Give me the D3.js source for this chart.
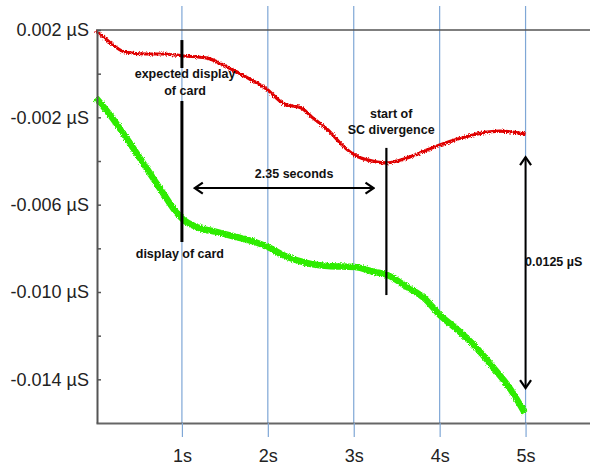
<!DOCTYPE html>
<html>
<head>
<meta charset="utf-8">
<script src="https://cdn.jsdelivr.net/npm/d3@7"></script>
<style>
  body { margin: 0; background: #fff; }
  svg text { font-family: "Liberation Sans", Arial, sans-serif; }
  .note { font-size: 12.5px; font-weight: bold; fill: #111; }
</style>
</head>
<body>
<svg id="chart"></svg>
<script>
// Red trace: time (s) and conductance (µS)
var redTime = [0, 0.1, 0.34, 0.58, 0.78, 1.02, 1.28, 1.55, 1.77, 2.0, 2.19, 2.39, 2.51,
  2.7, 2.9, 3.01, 3.16, 3.37, 3.62, 3.85, 4.0, 4.25, 4.49, 4.7, 5.0];
var redValue = [0.00195, 0.00163, 0.00099, 0.0009, 0.0009, 0.00081, 0.00072, 0.00026, -0.0002,
  -0.00075, -0.00139, -0.00157, -0.00198, -0.00258, -0.0034, -0.00373, -0.00395, -0.00409,
  -0.00386, -0.0035, -0.00327, -0.00295, -0.00272, -0.00263, -0.00276];

// Green trace
var greenTime = [0, 0.18, 0.37, 0.58, 0.78, 0.94, 1.02, 1.17, 1.4, 1.63, 1.85, 2.0, 2.23,
  2.45, 2.7, 3.01, 3.24, 3.39, 3.62, 3.82, 4.0, 4.21, 4.42, 4.62, 4.83, 4.99];
var greenValue = [-0.00111, -0.00198, -0.00304, -0.00428, -0.00547, -0.00638, -0.0067, -0.00702,
  -0.00725, -0.00748, -0.00771, -0.00794, -0.0084, -0.00867, -0.00881, -0.00886, -0.00908,
  -0.00922, -0.00977, -0.01028, -0.01105, -0.01174, -0.01252, -0.01344, -0.01449, -0.01554];

// Axis ticks
var xTicks = [1, 2, 3, 4, 5];
var xTickLabels = ["1s", "2s", "3s", "4s", "5s"];
var yTicks = [0.002, 0, -0.002, -0.004, -0.006, -0.008, -0.010, -0.012, -0.014];
var yTickLabels = ["0.002 µS", "", "-0.002 µS", "", "-0.006 µS", "", "-0.010 µS", "", "-0.014 µS"];

// Annotations (time, value)
var cardLineTime = 1;
var cardLineValues = [[0.00154, 0.00026], [-0.00125, -0.00771]];
var divLineTime = 3.38;
var divLineValues = [-0.0034, -0.01014];
var gapArrowTime = [1.15, 3.23];
var gapArrowValue = -0.00524;
var diffArrowTime = 5;
var diffArrowValues = [-0.00382, -0.0144];
var noteText = [["expected display", "of card"], ["display of card"], ["2.35 seconds"],
  ["start of", "SC divergence"], ["0.0125 µS"]];
var noteTime = [1.037, 0.463, 2.306, 3.436, 4.994];
var noteValue = [-0.0002, -0.00844, -0.00478, -0.00203, -0.00881];
var noteAnchor = ["middle", "start", "middle", "middle", "start"];

var width = 590,
  height = 468;

var x = d3.scaleLinear().domain([0, 5.75]).range([96, 590]);
var y = d3.scaleLinear().domain([-0.016, 0.002]).range([423, 30]);

var svg = d3.select("#chart")
  .attr("width", width)
  .attr("height", height);

// fuzzy edge for the noisy traces
var defs = svg.append("defs");
var fuzz = defs.append("filter").attr("id", "fuzz")
  .attr("x", "-5%").attr("y", "-5%").attr("width", "110%").attr("height", "110%");
fuzz.append("feTurbulence")
  .attr("type", "fractalNoise")
  .attr("baseFrequency", 0.9)
  .attr("numOctaves", 2)
  .attr("seed", 3)
  .attr("result", "noise");
fuzz.append("feDisplacementMap")
  .attr("in", "SourceGraphic")
  .attr("in2", "noise")
  .attr("scale", 3.5)
  .attr("xChannelSelector", "R")
  .attr("yChannelSelector", "G");

defs.append("marker")
  .attr("id", "head")
  .attr("viewBox", "-10 -7 12 14")
  .attr("refX", 0).attr("refY", 0)
  .attr("markerWidth", 12).attr("markerHeight", 14)
  .attr("markerUnits", "userSpaceOnUse")
  .attr("orient", "auto-start-reverse")
  .append("path")
  .attr("d", "M-8,-5.5L0,0L-8,5.5")
  .attr("fill", "none")
  .attr("stroke", "#000")
  .attr("stroke-width", 2.2);

// vertical blue grid lines
svg.append("g")
  .selectAll("line")
  .data(xTicks)
  .enter().append("line")
  .attr("x1", function(d) { return x(d); })
  .attr("x2", function(d) { return x(d); })
  .attr("y1", 6)
  .attr("y2", y(-0.016))
  .attr("stroke", "#7fa7d6")
  .attr("stroke-width", 1.2);

// top border line
svg.append("line")
  .attr("x1", x(0)).attr("x2", width)
  .attr("y1", y(0.002)).attr("y2", y(0.002))
  .attr("stroke", "#555")
  .attr("stroke-width", 1.5);

// x axis
var xAxis = svg.append("g")
  .attr("transform", "translate(0," + y(-0.016) + ")")
  .call(d3.axisBottom(x)
    .tickValues(xTicks)
    .tickSizeInner(14)
    .tickSizeOuter(0)
    .tickPadding(12)
    .tickFormat(function(d, i) { return xTickLabels[i]; }));
xAxis.select(".domain").attr("stroke", "#666").attr("stroke-width", 2);
xAxis.selectAll(".tick line").attr("stroke", "#7fa7d6").attr("stroke-width", 1.2);
xAxis.selectAll("text")
  .attr("font-size", 18)
  .attr("font-family", "Liberation Sans, Arial, sans-serif")
  .attr("fill", "#222");

// traces
var line = d3.line()
  .x(function(d) { return x(d[0]); })
  .y(function(d) { return y(d[1]); })
  .curve(d3.curveMonotoneX);

svg.append("path")
  .datum(d3.zip(greenTime, greenValue))
  .attr("d", line)
  .attr("fill", "none")
  .attr("stroke", "#2eec00")
  .attr("stroke-width", 6.5)
  .attr("filter", "url(#fuzz)");

svg.append("path")
  .datum(d3.zip(redTime, redValue))
  .attr("d", line)
  .attr("fill", "none")
  .attr("stroke", "#e00000")
  .attr("stroke-width", 3.2)
  .attr("filter", "url(#fuzz)");

// y axis
var yAxis = svg.append("g")
  .attr("transform", "translate(" + (x(0) + 1) + ",0)")
  .call(d3.axisLeft(y)
    .tickValues(yTicks)
    .tickSizeInner(-4)
    .tickSizeOuter(0)
    .tickPadding(8)
    .tickFormat(function(d, i) { return yTickLabels[i]; }));
yAxis.select(".domain").attr("stroke", "#555").attr("stroke-width", 2);
yAxis.selectAll(".tick line").attr("stroke", "#555").attr("stroke-width", 1.5);
yAxis.selectAll("text")
  .attr("font-size", 18)
  .attr("font-family", "Liberation Sans, Arial, sans-serif")
  .attr("fill", "#222");

// black annotation lines
var ann = svg.append("g")
  .attr("stroke", "#000")
  .attr("fill", "none");

ann.selectAll(".card")
  .data(cardLineValues)
  .enter().append("line")
  .attr("class", "card")
  .attr("x1", x(cardLineTime)).attr("x2", x(cardLineTime))
  .attr("y1", function(d) { return y(d[0]); })
  .attr("y2", function(d) { return y(d[1]); })
  .attr("stroke-width", 3);

ann.append("line")
  .attr("x1", x(divLineTime)).attr("x2", x(divLineTime))
  .attr("y1", y(divLineValues[0])).attr("y2", y(divLineValues[1]))
  .attr("stroke-width", 2.2);

ann.append("line")
  .attr("x1", x(gapArrowTime[0])).attr("x2", x(gapArrowTime[1]))
  .attr("y1", y(gapArrowValue)).attr("y2", y(gapArrowValue))
  .attr("stroke-width", 2)
  .attr("marker-start", "url(#head)")
  .attr("marker-end", "url(#head)");

ann.append("line")
  .attr("x1", x(diffArrowTime)).attr("x2", x(diffArrowTime))
  .attr("y1", y(diffArrowValues[0])).attr("y2", y(diffArrowValues[1]))
  .attr("stroke-width", 2)
  .attr("marker-start", "url(#head)")
  .attr("marker-end", "url(#head)");

// annotation text
var notes = svg.append("g")
  .selectAll("text")
  .data(noteText)
  .enter().append("text")
  .attr("class", "note")
  .attr("text-anchor", function(d, i) { return noteAnchor[i]; })
  .attr("x", function(d, i) { return x(noteTime[i]); })
  .attr("y", function(d, i) { return y(noteValue[i]); });

notes.selectAll("tspan")
  .data(function(d) { return d; })
  .enter().append("tspan")
  .attr("x", function() { return d3.select(this.parentNode).attr("x"); })
  .attr("dy", function(d, i) { return i === 0 ? 0 : 16.5; })
  .text(function(d) { return d; });
</script>
</body>
</html>
